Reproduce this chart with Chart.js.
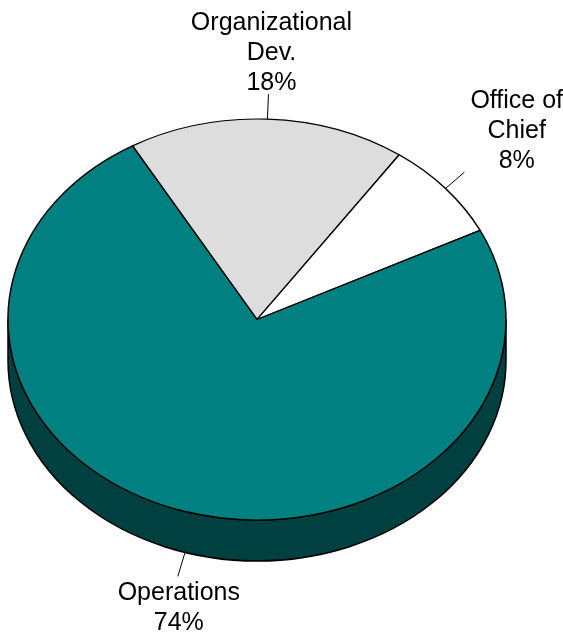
<!DOCTYPE html>
<html>
<head>
<meta charset="utf-8">
<title>Division share</title>
<script src="https://cdn.jsdelivr.net/npm/chart.js@4"></script>
<style>
  html, body { margin: 0; padding: 0; background: #ffffff; }
  canvas { display: block; }
</style>
</head>
<body>
<canvas id="pie" width="563" height="635"></canvas>
<script>
// Budget share by division
const categories = ['Organizational Dev.', 'Office of Chief', 'Operations'];
const labelLines = [['Organizational', 'Dev.'], ['Office of', 'Chief'], ['Operations']];
const shares = [18, 8, 74];

// Slice styling
const topColors = ['#dddddd', '#ffffff', '#008080'];
const sideColors = ['#6e6e6e', '#808080', '#004040'];

// Tilted-disc geometry
const TILT = 200.5 / 249;   // vertical squash of the disc
const DEPTH = 41;           // thickness of the disc in px
const FONT = "25px 'Liberation Sans', Arial, sans-serif";
const LINE_H = 29.6;
const LEADER = 25;

function arcsOf(chart) {
  return chart.getDatasetMeta(0).data;
}

const tiltedPie = {
  id: 'tiltedPie',
  beforeDatasetsDraw(chart) {
    const ctx = chart.ctx;
    const arcs = arcsOf(chart);
    // front wall of the disc
    arcs.forEach((arc, i) => {
      const { x, y, startAngle, endAngle, outerRadius } = arc.getProps(['x', 'y', 'startAngle', 'endAngle', 'outerRadius'], true);
      const rx = outerRadius, ry = outerRadius * TILT;
      [[-2 * Math.PI, -Math.PI], [0, Math.PI], [2 * Math.PI, 3 * Math.PI]].forEach(([lo, hi]) => {
        const a1 = Math.max(startAngle, lo), a2 = Math.min(endAngle, hi);
        if (a2 <= a1) return;
        ctx.save();
        ctx.beginPath();
        ctx.ellipse(x, y, rx, ry, 0, a1, a2, false);
        ctx.lineTo(x + rx * Math.cos(a2), y + ry * Math.sin(a2) + DEPTH);
        ctx.ellipse(x, y + DEPTH, rx, ry, 0, a2, a1, true);
        ctx.closePath();
        ctx.fillStyle = sideColors[i];
        ctx.fill();
        ctx.lineWidth = 1.5;
        ctx.strokeStyle = '#000000';
        ctx.lineJoin = 'round';
        ctx.stroke();
        ctx.restore();
      });
    });
    // squash the top face drawn by the controller
    const a0 = arcs[0];
    ctx.save();
    ctx.translate(a0.x, a0.y);
    ctx.scale(1, TILT);
    ctx.translate(-a0.x, -a0.y);
  },
  afterDatasetsDraw(chart) {
    const ctx = chart.ctx;
    ctx.restore();
    // leader lines and labels
    const arcs = arcsOf(chart);
    ctx.save();
    ctx.font = FONT;
    ctx.fillStyle = '#000000';
    ctx.textAlign = 'center';
    ctx.textBaseline = 'alphabetic';
    arcs.forEach((arc, i) => {
      const { x, y, startAngle, endAngle, outerRadius } = arc.getProps(['x', 'y', 'startAngle', 'endAngle', 'outerRadius'], true);
      const mid = (startAngle + endAngle) / 2;
      const c = Math.cos(mid), s = Math.sin(mid);
      const rx = outerRadius, ry = outerRadius * TILT;
      const px = x + rx * c;
      const py = y + ry * s + (s > 0 ? DEPTH : 0);
      const ex = px + LEADER * c;
      const ey = py + LEADER * s;
      ctx.beginPath();
      ctx.moveTo(px, py);
      ctx.lineTo(ex, ey);
      ctx.lineWidth = 1;
      ctx.strokeStyle = '#000000';
      ctx.stroke();

      const lines = labelLines[i].concat([shares[i] + '%']);
      const w = Math.max(...lines.map(t => ctx.measureText(t).width));
      let cxText = s < 0 ? ex + 3 : ex + 1;
      if (c > 0.5) cxText = ex + w / 2 + 6;
      else if (c < -0.5) cxText = ex - w / 2 - 6;
      let firstBase;
      if (s < 0) firstBase = ey - 4.5 - LINE_H * (lines.length - 1);
      else firstBase = ey + 24;
      lines.forEach((t, k) => ctx.fillText(t, cxText, firstBase + k * LINE_H));
    });
    ctx.restore();
  }
};

new Chart(document.getElementById('pie'), {
  type: 'pie',
  data: {
    labels: categories,
    datasets: [{
      data: shares,
      backgroundColor: topColors,
      borderColor: '#000000',
      borderWidth: 1.5,
      radius: 249,
      clip: false
    }]
  },
  options: {
    responsive: false,
    animation: false,
    rotation: -30,
    layout: { padding: { top: 4, right: 49, bottom: 0, left: 0 } },
    plugins: {
      legend: { display: false },
      tooltip: { enabled: false }
    },
    events: []
  },
  plugins: [tiltedPie]
});
</script>
</body>
</html>
